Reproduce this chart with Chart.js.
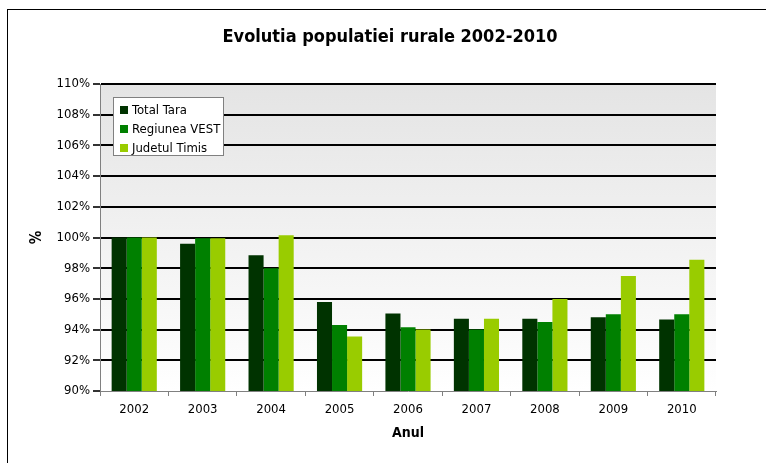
<!DOCTYPE html>
<html>
  <head>
    <meta charset="utf-8" />
    <title>Evolutia populatiei rurale</title>
    <script src="https://cdn.jsdelivr.net/npm/chart.js"></script>
    <style>
      html, body { margin: 0; padding: 0; background: #fff; }
      #wrap { width: 766px; height: 463px; }
    </style>
  </head>
  <body>
    <div id="wrap"><canvas id="rural"></canvas></div>
    <script>
      // date: populatia rurala, 2002 = 100%
      var ani = ["2002", "2003", "2004", "2005", "2006", "2007", "2008", "2009", "2010"];
      var totalTara = [100, 99.6, 98.85, 95.8, 95.05, 94.7, 94.7, 94.8, 94.65];
      var regiuneaVest = [100, 99.95, 98.0, 94.3, 94.15, 94.0, 94.5, 95.0, 95.0];
      var judetulTimis = [100, 99.95, 100.15, 93.55, 94.0, 94.7, 96.0, 97.5, 98.55];

      var FONT = "'DejaVu Sans Condensed', 'DejaVu Sans', sans-serif";

      // fundal, chenar, titlu si legenda in interiorul graficului
      var decor = {
        id: "decor",
        beforeDraw: function (chart) {
          var c = chart.ctx, a = chart.chartArea;
          c.save();
          var g = c.createLinearGradient(0, a.top, 0, a.bottom);
          g.addColorStop(0, "#e4e4e4");
          g.addColorStop(1, "#ffffff");
          c.fillStyle = g;
          c.fillRect(a.left, a.top, a.right - a.left, a.bottom - a.top);
          c.strokeStyle = "#000";
          c.lineWidth = 1;
          c.strokeRect(7.5, 9.5, 900, 600);
          c.fillStyle = "#000";
          c.font = "bold 18px " + FONT;
          c.textAlign = "center";
          c.textBaseline = "middle";
          c.fillText("Evolutia populatiei rurale 2002-2010", 390, 37);
          c.restore();
        },
        afterDraw: function (chart) {
          var c = chart.ctx, a = chart.chartArea;
          var x = a.left + 13, y = a.top + 13;
          c.save();
          c.fillStyle = "#fff";
          c.fillRect(x, y, 110, 58);
          c.strokeStyle = "#808080";
          c.lineWidth = 1;
          c.strokeRect(x + 0.5, y + 0.5, 110, 58);
          c.font = "13px " + FONT;
          c.textBaseline = "middle";
          chart.data.datasets.forEach(function (ds, i) {
            var cy = y + 13 + i * 19;
            c.fillStyle = ds.backgroundColor;
            c.fillRect(x + 7, cy - 4, 8, 8);
            c.fillStyle = "#000";
            c.fillText(ds.label, x + 19, cy + 1);
          });
          c.restore();
        },
      };

      new Chart(document.getElementById("rural"), {
        type: "bar",
        data: {
          labels: ani,
          datasets: [
            { label: "Total Tara", data: totalTara, backgroundColor: "#003300" },
            { label: "Regiunea VEST", data: regiuneaVest, backgroundColor: "#008000" },
            { label: "Judetul Timis", data: judetulTimis, backgroundColor: "#99cc00" },
          ],
        },
        options: {
          responsive: true,
          maintainAspectRatio: false,
          animation: false,
          datasets: { bar: { barPercentage: 1, categoryPercentage: 0.66 } },
          layout: { padding: { left: 8, top: 84, right: 50, bottom: 17 } },
          plugins: { legend: { display: false }, tooltip: { enabled: false } },
          scales: {
            x: {
              afterFit: function (s) { s.height = 55; },
              grid: { drawOnChartArea: false, tickLength: 5, color: "#808080", offset: true },
              border: { color: "#808080" },
              ticks: { color: "#000", font: { family: FONT, size: 13 }, padding: 6 },
              title: { display: true, text: "Anul", color: "#000", font: { family: FONT, size: 14, weight: "bold" }, padding: { top: 6 } },
            },
            y: {
              min: 90,
              max: 110,
              afterFit: function (s) { s.width = 92; },
              grid: {
                color: function (ctx) { return ctx.tick && ctx.tick.value === 90 ? "rgba(0,0,0,0)" : "#000"; },
                lineWidth: 2,
                tickLength: 7,
                tickColor: "#333",
              },
              border: { color: "#808080", width: 1 },
              ticks: {
                stepSize: 2,
                color: "#000",
                padding: 3,
                font: { family: FONT, size: 13 },
                callback: function (v) { return v + "%"; },
              },
              title: { display: true, text: "%", color: "#000", font: { family: FONT, size: 15, weight: "bold" }, padding: { top: 20, bottom: 0 } },
            },
          },
        },
        plugins: [decor],
      });
    </script>
  </body>
</html>
